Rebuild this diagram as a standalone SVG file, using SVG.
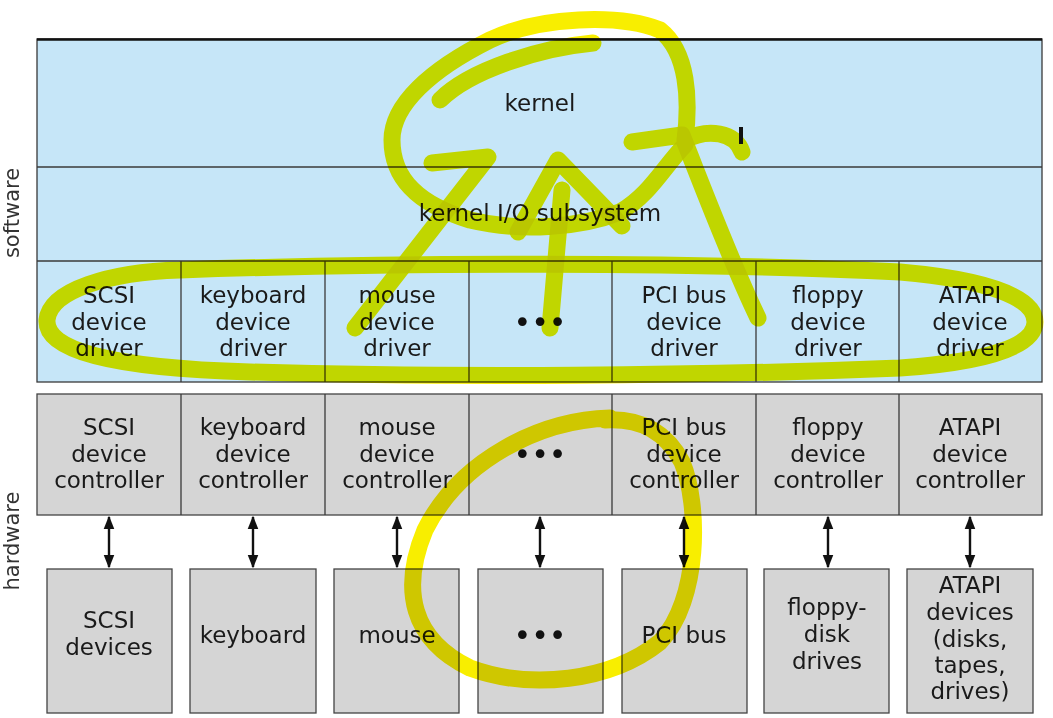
<svg xmlns="http://www.w3.org/2000/svg" width="1053" height="718" viewBox="0 0 1053 718">
<style>
.t{font-family:"DejaVu Sans","Liberation Sans",sans-serif;font-size:23px;fill:#1a1a1a;text-anchor:middle}
.side{font-family:"DejaVu Sans","Liberation Sans",sans-serif;font-size:21px;fill:#333;text-anchor:middle}
.dots{font-family:"DejaVu Sans",sans-serif;font-size:30px;fill:#111;text-anchor:middle}
.sw{fill:#c6e6f8;stroke:#3a3a3a;stroke-width:1.3}
.hw{fill:#d5d5d5;stroke:#444;stroke-width:1.3}
.ln{stroke:#3a3a3a;stroke-width:1.3;fill:none}
.hl{fill:none;stroke:#f8ee00;stroke-width:17;stroke-linecap:round;stroke-linejoin:round;mix-blend-mode:multiply}
.arr{stroke:#111;stroke-width:2.4;marker-start:url(#ah);marker-end:url(#ah)}
</style>
<defs>
<marker id="ah" viewBox="0 0 10 10" refX="9" refY="5" markerWidth="5.5" markerHeight="5.5" orient="auto-start-reverse" markerUnits="strokeWidth">
<path d="M0,1 L10,5 L0,9 z" fill="#111"/>
</marker>
</defs>
<rect width="1053" height="718" fill="#ffffff"/>

<text class="side" transform="translate(19,213) rotate(-90)">software</text>
<text class="side" transform="translate(19,541) rotate(-90)">hardware</text>

<g id="software">
<rect class="sw" x="37" y="39" width="1005" height="343"/>
<line class="ln" x1="37" y1="167" x2="1042" y2="167"/>
<line class="ln" x1="37" y1="261" x2="1042" y2="261"/>
<line x1="37" y1="39.5" x2="1042" y2="39.5" stroke="#111" stroke-width="2.5"/>
</g>
<g id="kernel"><text class="t" x="540" y="111">kernel</text></g>
<g id="kernel-io"><text class="t" x="540" y="221">kernel I/O subsystem</text></g>

<g id="drivers">
<line class="ln" x1="181" y1="261" x2="181" y2="382"/>
<line class="ln" x1="325" y1="261" x2="325" y2="382"/>
<line class="ln" x1="469" y1="261" x2="469" y2="382"/>
<line class="ln" x1="612" y1="261" x2="612" y2="382"/>
<line class="ln" x1="756" y1="261" x2="756" y2="382"/>
<line class="ln" x1="899" y1="261" x2="899" y2="382"/>
</g>
<g id="scsi-driver"><text class="t" x="109" y="303">SCSI</text><text class="t" x="109" y="330">device</text><text class="t" x="109" y="356">driver</text></g>
<g id="keyboard-driver"><text class="t" x="253" y="303">keyboard</text><text class="t" x="253" y="330">device</text><text class="t" x="253" y="356">driver</text></g>
<g id="mouse-driver"><text class="t" x="397" y="303">mouse</text><text class="t" x="397" y="330">device</text><text class="t" x="397" y="356">driver</text></g>
<g id="dots-driver"><text class="dots" x="540" y="333">•••</text></g>
<g id="pci-driver"><text class="t" x="684" y="303">PCI bus</text><text class="t" x="684" y="330">device</text><text class="t" x="684" y="356">driver</text></g>
<g id="floppy-driver"><text class="t" x="828" y="303">floppy</text><text class="t" x="828" y="330">device</text><text class="t" x="828" y="356">driver</text></g>
<g id="atapi-driver"><text class="t" x="970" y="303">ATAPI</text><text class="t" x="970" y="330">device</text><text class="t" x="970" y="356">driver</text></g>

<g id="controllers">
<rect class="hw" x="37" y="394" width="1005" height="121"/>
<line class="ln" x1="181" y1="394" x2="181" y2="515"/>
<line class="ln" x1="325" y1="394" x2="325" y2="515"/>
<line class="ln" x1="469" y1="394" x2="469" y2="515"/>
<line class="ln" x1="612" y1="394" x2="612" y2="515"/>
<line class="ln" x1="756" y1="394" x2="756" y2="515"/>
<line class="ln" x1="899" y1="394" x2="899" y2="515"/>
</g>
<g id="scsi-ctrl"><text class="t" x="109" y="435">SCSI</text><text class="t" x="109" y="462">device</text><text class="t" x="109" y="488">controller</text></g>
<g id="keyboard-ctrl"><text class="t" x="253" y="435">keyboard</text><text class="t" x="253" y="462">device</text><text class="t" x="253" y="488">controller</text></g>
<g id="mouse-ctrl"><text class="t" x="397" y="435">mouse</text><text class="t" x="397" y="462">device</text><text class="t" x="397" y="488">controller</text></g>
<g id="dots-ctrl"><text class="dots" x="540" y="465">•••</text></g>
<g id="pci-ctrl"><text class="t" x="684" y="435">PCI bus</text><text class="t" x="684" y="462">device</text><text class="t" x="684" y="488">controller</text></g>
<g id="floppy-ctrl"><text class="t" x="828" y="435">floppy</text><text class="t" x="828" y="462">device</text><text class="t" x="828" y="488">controller</text></g>
<g id="atapi-ctrl"><text class="t" x="970" y="435">ATAPI</text><text class="t" x="970" y="462">device</text><text class="t" x="970" y="488">controller</text></g>

<g id="scsi-dev"><rect class="hw" x="47" y="569" width="125" height="144"/><text class="t" x="109" y="628">SCSI</text><text class="t" x="109" y="655">devices</text></g>
<g id="keyboard-dev"><rect class="hw" x="190" y="569" width="126" height="144"/><text class="t" x="253" y="643">keyboard</text></g>
<g id="mouse-dev"><rect class="hw" x="334" y="569" width="125" height="144"/><text class="t" x="397" y="643">mouse</text></g>
<g id="dots-dev"><rect class="hw" x="478" y="569" width="125" height="144"/><text class="dots" x="540" y="646">•••</text></g>
<g id="pci-dev"><rect class="hw" x="622" y="569" width="125" height="144"/><text class="t" x="684" y="643">PCI bus</text></g>
<g id="floppy-dev"><rect class="hw" x="764" y="569" width="125" height="144"/><text class="t" x="827" y="615">floppy-</text><text class="t" x="827" y="642">disk</text><text class="t" x="827" y="669">drives</text></g>
<g id="atapi-dev"><rect class="hw" x="907" y="569" width="126" height="144"/><text class="t" x="970" y="593">ATAPI</text><text class="t" x="970" y="620">devices</text><text class="t" x="970" y="647">(disks,</text><text class="t" x="970" y="673">tapes,</text><text class="t" x="970" y="699">drives)</text></g>

<g id="connectors">
<line class="arr" x1="109" y1="517" x2="109" y2="567"/>
<line class="arr" x1="253" y1="517" x2="253" y2="567"/>
<line class="arr" x1="397" y1="517" x2="397" y2="567"/>
<line class="arr" x1="540" y1="517" x2="540" y2="567"/>
<line class="arr" x1="684" y1="517" x2="684" y2="567"/>
<line class="arr" x1="828" y1="517" x2="828" y2="567"/>
<line class="arr" x1="970" y1="517" x2="970" y2="567"/>
</g>

<g id="annotations">
<path class="hl" d="M 180,270 C 110,272 50,290 47,320 C 45,350 110,368 250,372 C 450,378 700,376 900,368 C 990,362 1035,345 1035,322 C 1035,298 990,280 900,272 C 700,262 400,262 180,270"/>
<path class="hl" d="M 742,152 C 735,132 708,128 685,140 C 690,100 688,52 660,30 C 620,14 540,16 490,40 C 430,70 392,105 392,140 C 392,180 420,205 470,220 C 520,232 580,228 620,212 C 650,195 665,165 685,145"/>
<path class="hl" d="M 593,43 C 540,48 470,70 440,100"/>
<path class="hl" d="M 432,163 L 488,157 L 355,328"/>
<path class="hl" d="M 518,232 L 558,160 L 622,226"/>
<path class="hl" d="M 562,190 L 550,328"/>
<path class="hl" d="M 632,142 L 682,135 C 700,180 730,260 758,318"/>
<path class="hl" d="M 610,418 C 540,420 460,460 425,530 C 400,590 412,640 470,668 C 530,690 610,682 660,642 C 700,600 700,505 682,462 C 666,432 642,418 605,420"/>
<rect x="739" y="127" width="4" height="17" fill="#111"/>
</g>
</svg>
